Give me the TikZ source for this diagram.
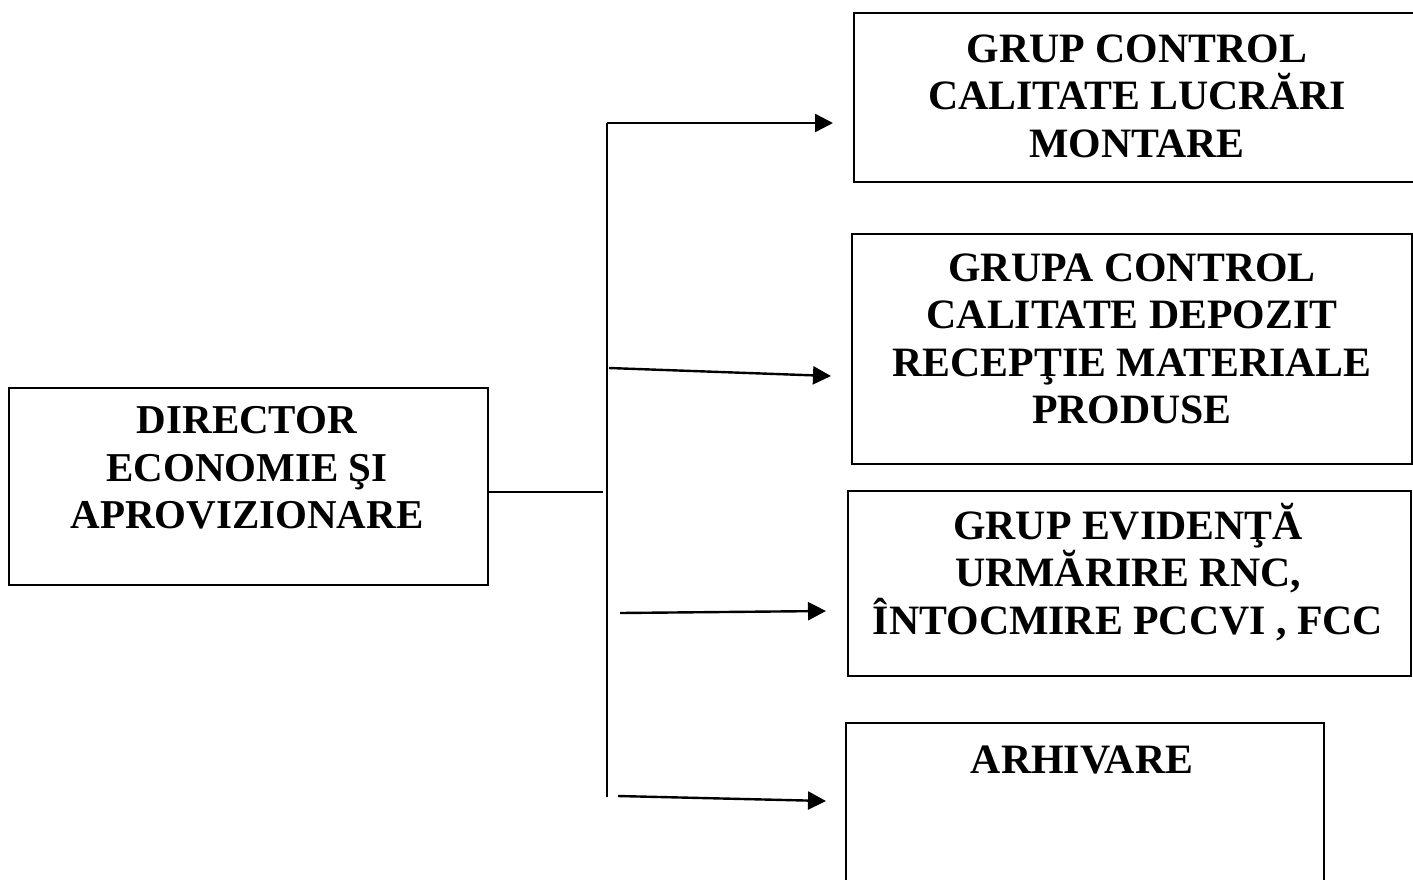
\documentclass[tikz,border=0pt]{standalone}
\usepackage{fontspec}
\setmainfont{Liberation Serif}
\usetikzlibrary{arrows.meta}
\begin{document}
\begin{tikzpicture}[x=1pt,y=-1pt,
  box/.style={draw=black,line width=2.4pt,rectangle,inner sep=0pt,anchor=north west},
  lbl/.style={align=center,inner sep=0pt,font=\bfseries\fontsize{41}{47.5}\selectfont},
  rlbl/.style={lbl,font=\bfseries\fontsize{41.8}{47.5}\selectfont},
  conn/.style={line width=2.4pt},
  arr/.style={line width=2.4pt,-{Triangle[length=18pt,width=18pt]}}]
\useasboundingbox (0,0) rectangle (1413,879);
\begin{scope}
\clip (0,0) rectangle (1413,879);
% boxes
\node[box,minimum width=479pt,minimum height=197pt] (dir) at (8,387) {};
\node[box,minimum width=570pt,minimum height=169pt] (b1) at (853,12) {};
\node[box,minimum width=560pt,minimum height=230pt] (b2) at (851,233) {};
\node[box,minimum width=563pt,minimum height=185pt] (b3) at (847,490) {};
\node[box,minimum width=478pt,minimum height=170pt] (b4) at (845,722) {};
\end{scope}
% texts
\node[lbl] (tdir) at (247,468) {DIRECTOR\\ECONOMIE ŞI\\APROVIZIONARE};
\node[rlbl] (t1) at (1137,96) {GRUP CONTROL\\CALITATE LUCRĂRI\\MONTARE};
\node[rlbl] (t2) at (1132,339) {GRUPA CONTROL\\CALITATE DEPOZIT\\RECEPŢIE MATERIALE\\PRODUSE};
\node[rlbl] (t3) at (1128,572) {GRUP EVIDENŢĂ\\URMĂRIRE RNC,\\ÎNTOCMIRE PCCVI , FCC};
\node[rlbl] (t4) at (1082,760) {ARHIVARE};
% connectors
\coordinate (j) at (603,492);
\coordinate (vtop) at (607,123);
\coordinate (vbot) at (607,797);
\coordinate (s2) at (609,368);
\coordinate (s3) at (620,613);
\coordinate (s4) at (618,796);
\draw[conn] (dir.east |- j) -- (j);
\draw[conn] (vtop) -- (vbot);
\draw[arr] (vtop) -- (833,123) coordinate (e1);
\draw[arr] (s2) -- (831,376) coordinate (e2);
\draw[arr] (s3) -- (826,611) coordinate (e3);
\draw[arr] (s4) -- (826,801) coordinate (e4);
\end{tikzpicture}
\end{document}
